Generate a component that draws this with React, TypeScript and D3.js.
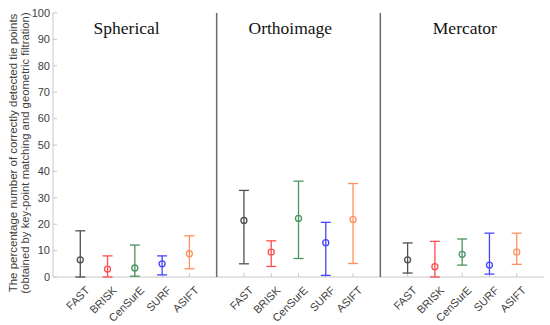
import React from "react";
import * as d3 from "d3";

const groups = ["Spherical", "Orthoimage", "Mercator"];
const groupTitlePos = [1.7, 7.7, 14.1];
const methods = ["FAST", "BRISK", "CenSurE", "SURF", "ASIFT"];
const colors = ["#505050", "#ff4d4d", "#4a9460", "#4545ff", "#ff9060"];
const means = [
  [6.5, 3.0, 3.4, 5.0, 8.8],
  [21.4, 9.4, 22.2, 13.0, 21.8],
  [6.5, 3.9, 8.6, 4.5, 9.4],
];
const upper = [
  [17.5, 8.0, 12.1, 8.0, 15.6],
  [32.8, 13.7, 36.3, 20.7, 35.4],
  [12.9, 13.5, 14.4, 16.6, 16.6],
];
const lower = [
  [0.0, 0.0, 0.3, 0.8, 3.1],
  [5.0, 4.0, 7.0, 0.6, 5.1],
  [1.5, 0.0, 4.5, 1.1, 4.8],
];
const yTicks = [0, 10, 20, 30, 40, 50, 60, 70, 80, 90, 100];
const yLabel1 = "The percentage number of correctly detected tie points";
const yLabel2 = "(obtained by key-point matching and geometric filtration)";

export default function App() {
  const W = 550, H = 325;
  const x = d3.scaleLinear().domain([-1, 17]).range([53, 544]);
  const y = d3.scaleLinear().domain([0, 100]).range([277, 13]);
  const pos = (g: number, m: number) => g * 6 + m;
  const cap = 5;
  const sans = "Liberation Sans, Arial, sans-serif";
  return (
    <svg width={W} height={H} style={{ position: "absolute", left: 0, top: 0 }}>
      <rect width={W} height={H} fill="#fff" />
      {/* axes */}
      <line x1={x(-1)} x2={x(-1)} y1={y(0)} y2={y(100)} stroke="#c8c8c8" strokeWidth={1} />
      <line x1={x(-1)} x2={x(17)} y1={y(0)} y2={y(0)} stroke="#c8c8c8" strokeWidth={1} />
      {yTicks.map((t) => (
        <g key={t}>
          <line x1={x(-1)} x2={x(-1) + 4} y1={y(t)} y2={y(t)} stroke="#c8c8c8" />
          <text x={x(-1) - 3} y={y(t)} dy="0.35em" textAnchor="end" fontFamily={sans} fontSize={11} fill="#404040">
            {t}
          </text>
        </g>
      ))}
      <g transform={`translate(13, ${153}) rotate(-90)`}>
        <text textAnchor="middle" dy="0.35em" fontFamily={sans} fontSize={11.5} fill="#404040">{yLabel1}</text>
      </g>
      <g transform={`translate(25.5, ${153}) rotate(-90)`}>
        <text textAnchor="middle" dy="0.35em" fontFamily={sans} fontSize={11.3} fill="#404040">{yLabel2}</text>
      </g>
      {/* separators */}
      {[5, 11].map((s) => (
        <line key={s} x1={x(s)} x2={x(s)} y1={y(0)} y2={y(100)} stroke="#6a6a6a" strokeWidth={1.5} />
      ))}
      {/* titles */}
      {groups.map((g, i) => (
        <text key={g} x={x(groupTitlePos[i])} y={34} textAnchor="middle" fontFamily="Liberation Serif, serif" fontSize={17.5} fill="#111">
          {g}
        </text>
      ))}
      {/* ticks + labels */}
      {groups.map((g, gi) =>
        methods.map((m, mi) => {
          const px = x(pos(gi, mi));
          return (
            <g key={g + m}>
              <line x1={px} x2={px} y1={y(0)} y2={y(0) - 4} stroke="#c8c8c8" />
              <text
                transform={`translate(${px + 10}, ${291}) rotate(-45)`}
                textAnchor="end"
                fontFamily={sans}
                fontSize={11}
                fill="#404040"
              >
                {m}
              </text>
            </g>
          );
        })
      )}
      {/* error bars */}
      {groups.map((g, gi) =>
        methods.map((m, mi) => {
          const px = x(pos(gi, mi));
          const c = colors[mi];
          return (
            <g key={"e" + g + m} stroke={c} strokeWidth={1.3} fill="none">
              <line x1={px} x2={px} y1={y(lower[gi][mi])} y2={y(upper[gi][mi])} />
              <line x1={px - cap} x2={px + cap} y1={y(lower[gi][mi])} y2={y(lower[gi][mi])} />
              <line x1={px - cap} x2={px + cap} y1={y(upper[gi][mi])} y2={y(upper[gi][mi])} />
              <circle cx={px} cy={y(means[gi][mi])} r={3} fill="none" />
            </g>
          );
        })
      )}
    </svg>
  );
}
